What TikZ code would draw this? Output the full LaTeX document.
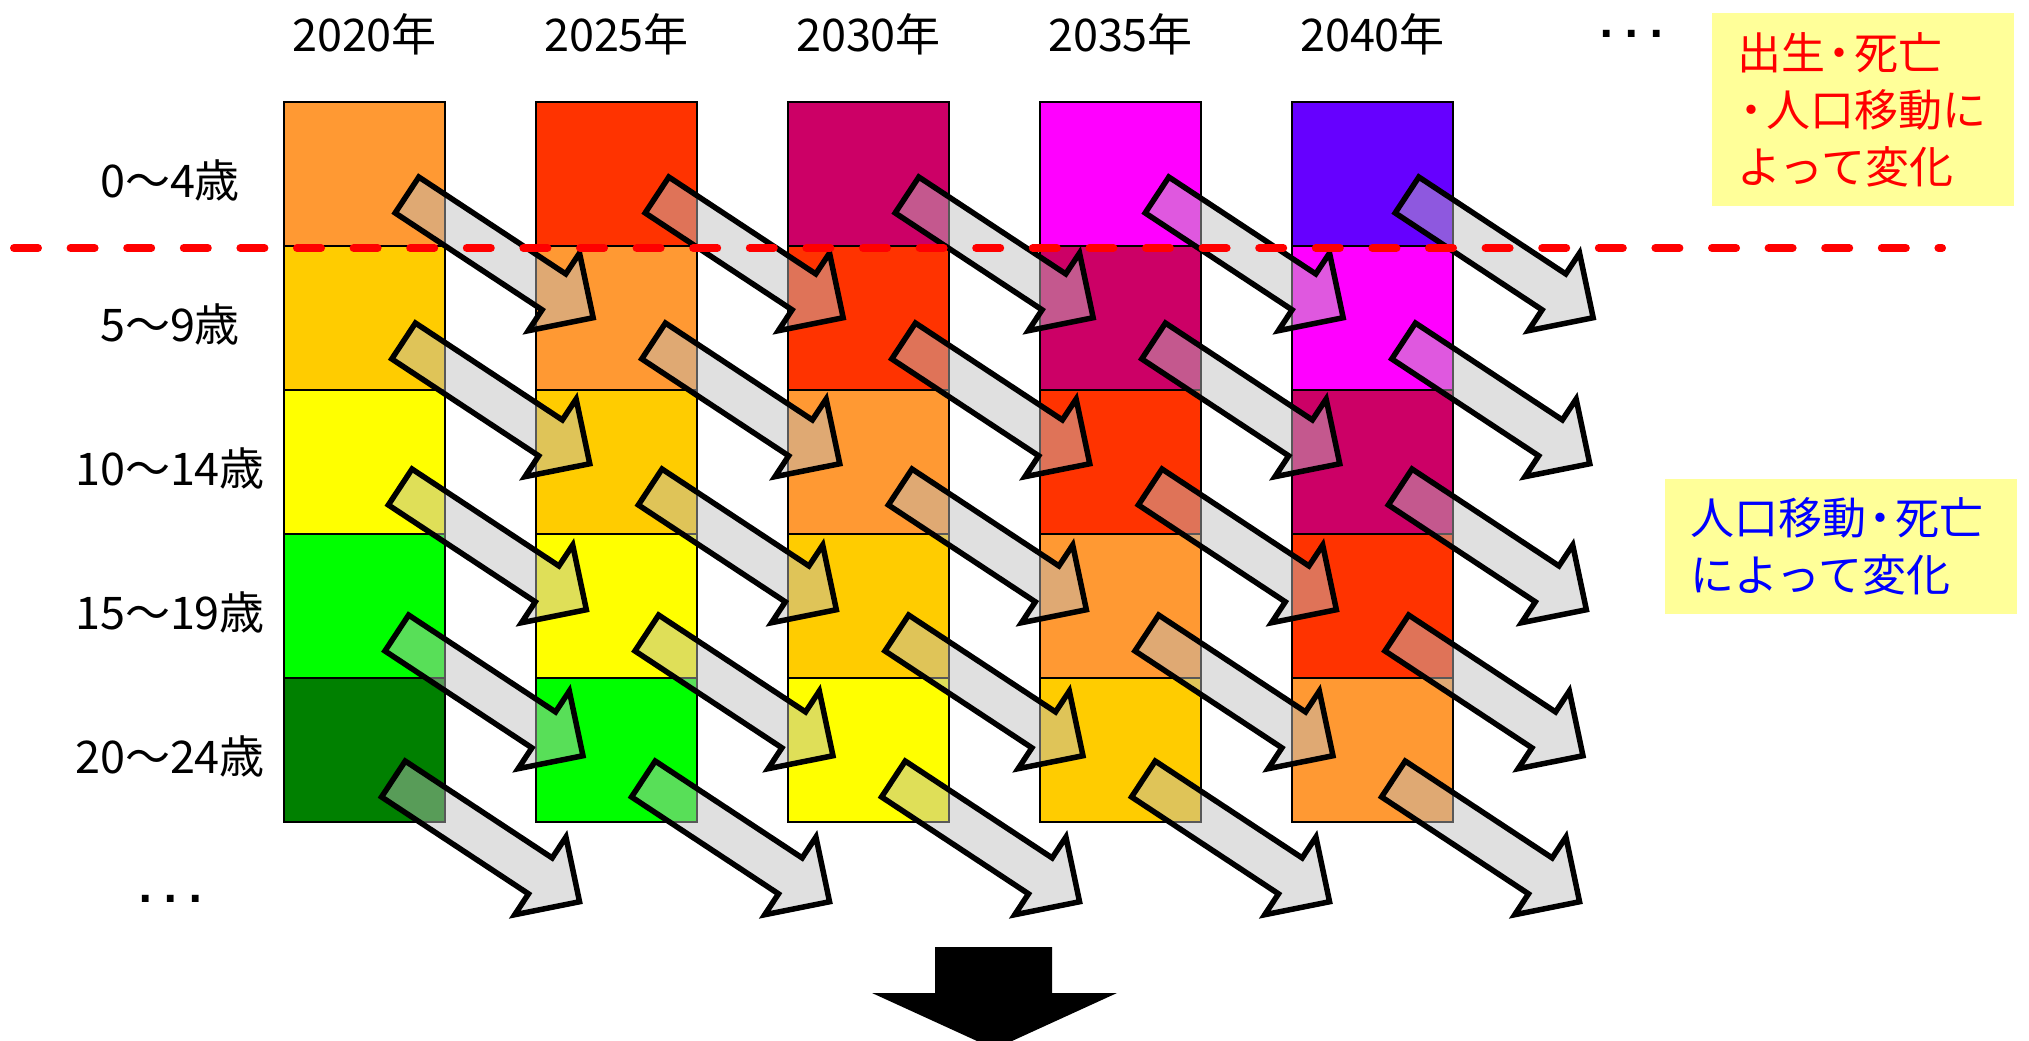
\documentclass[tikz,border=0pt]{standalone}
\usepackage{fontspec}
\setmainfont{Noto Sans CJK JP}
\newfontfamily\dejavub{DejaVu Sans Bold}
\definecolor{k0}{HTML}{6600FF}
\definecolor{k1}{HTML}{FF00FF}
\definecolor{k2}{HTML}{CC0066}
\definecolor{k3}{HTML}{FF3300}
\definecolor{k4}{HTML}{FF9933}
\definecolor{k5}{HTML}{FFCC00}
\definecolor{k6}{HTML}{FFFF00}
\definecolor{k7}{HTML}{00FF00}
\definecolor{k8}{HTML}{008000}
\definecolor{arrowgray}{RGB}{189,189,189}
\definecolor{notebg}{HTML}{FFFF99}
\definecolor{dashred}{HTML}{FF0000}
\definecolor{noteblue}{HTML}{0000FF}
\newcommand\nakaguro{\hspace{-0.17em}・\hspace{-0.17em}}
\newcommand\threedots{.\hspace{10.6pt}.\hspace{10.6pt}.}
\newcommand\popArrow[2]{%
  \begin{scope}[shift={(#1,#2)},rotate=-33.4]
    \draw[fatarrow] (0,-21.5) -- (176,-21.5) -- (176,-46.5) -- (223,0)
      -- (176,46.5) -- (176,21.5) -- (0,21.5) -- cycle;
  \end{scope}}
\begin{document}
\begin{tikzpicture}[x=1pt,y=-1pt,
  cell/.style={draw=black,line width=2,minimum width=161,minimum height=144,inner sep=0,outer sep=0},
  fatarrow/.style={draw=black,line width=5.5,fill=arrowgray,fill opacity=0.47,miter limit=10},
  lbl/.style={font=\fontsize{45}{54}\selectfont,inner sep=0},
  note/.style={fill=notebg,inner ysep=0,inner xsep=25,align=left,font=\fontsize{44}{57}\selectfont},
  dots/.style={font=\dejavub\fontsize{38}{40}\selectfont,inner sep=0,anchor=base}]
\useasboundingbox (0,0) rectangle (2029,1041);
% columns of boxes
\foreach \c in {0,...,4}{
  \foreach \r in {0,...,4}{
    \pgfmathtruncatemacro\k{\r-\c+4}
    \node[cell,fill=k\k] (b-\c-\r) at ({364.5+252*\c},{174+144*\r}) {};
  }
}
% year labels
\foreach \c/\y in {0/2020,1/2025,2/2030,3/2035,4/2040}{
  \node[lbl] (yr-\c) at ({364.5+252*\c},34) {\y 年};
}
% age labels
\node[lbl] (age0) at (170,180) {0〜4歳};
\node[lbl] (age1) at (170,324) {5〜9歳};
\node[lbl] (age2) at (170,468) {10〜14歳};
\node[lbl] (age3) at (170,612) {15〜19歳};
\node[lbl] (age4) at (170,756) {20〜24歳};
% ellipses
\node[dots] (dotsTop) at (1631.5,38) {\threedots};
\node[dots] (dotsBot) at (170.5,902) {\threedots};
% block arrows
\foreach \c in {0,...,4}{
  \foreach \r in {0,...,4}{
    \popArrow{{407+250*\c-3.4*\r}}{{195+146*\r}}
  }
}
% dashed border line
\coordinate (dl) at (14,248);
\coordinate (dr) at (1942,248);
\draw[dashred,line width=8,line cap=round,dash pattern=on 24 off 32.6] (dl) -- (dr);
% notes
\node[note,text=dashred,minimum width=302,minimum height=193,text width=252] (note1) at (1863,109.5)
  {出生\nakaguro 死亡\\\nakaguro 人口移動に\\よって変化};
\node[note,text=noteblue,minimum width=352,minimum height=135,text width=302] (note2) at (1841,546.5)
  {人口移動\nakaguro 死亡\\によって変化};
% bottom arrow
\begin{scope}
  \clip (0,0) rectangle (2029,1041);
  \fill[black] (935,947) -- (1052,947) -- (1052,993) -- (1117,993) -- (994.5,1049)
    -- (872,993) -- (935,993) -- cycle;
\end{scope}
\end{tikzpicture}
\end{document}
